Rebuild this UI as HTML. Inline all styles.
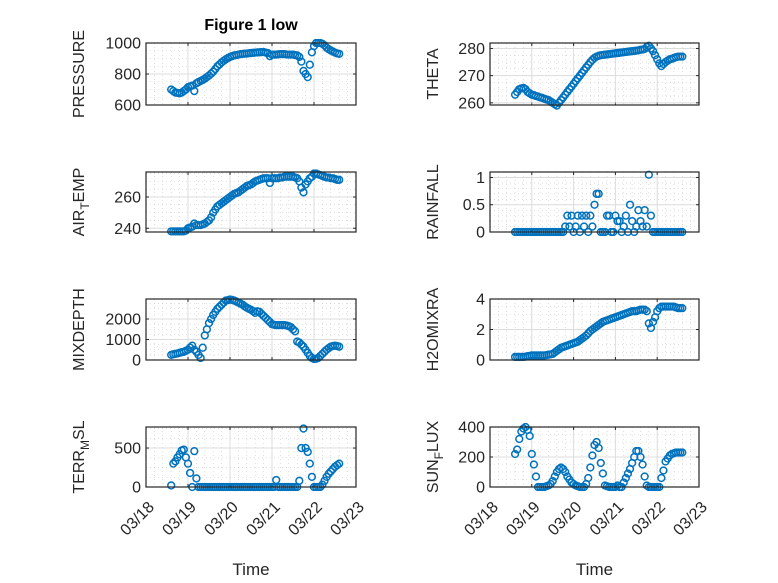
<!DOCTYPE html>
<html><head><meta charset="utf-8"><style>
body{margin:0;background:#fff;}
svg{display:block;font-family:"Liberation Sans",sans-serif;}
</style></head><body>
<svg id="fig" width="778" height="583" viewBox="0 0 778 583" xmlns="http://www.w3.org/2000/svg">
<rect width="778" height="583" fill="#fff"/>
<text x="251" y="30" text-anchor="middle" font-size="16" font-weight="bold" fill="#000">Figure 1 low</text>
</svg>
<script>
const times = [];
for (let i = 0; i <= 80; i++) times.push(18.6 + i * 0.05);
const xTickLabels = ["03/18","03/19","03/20","03/21","03/22","03/23"];
const xTickValues = [18,19,20,21,22,23];
const pressure = [700,690,680,678,675,680,690,700,715,720, 725,690,740,748,755,762,770,780,790,802, 815,832,850,862,875,885,895,903,910,915, 920,922,925,928,930,931,932,934,935,937, 938,939,940,941,942,938,935,915,925,925, 925,927,928,928,928,926,925,925,925,922, 920,910,880,820,800,780,860,940,980,1000, 1000,1000,995,985,970,960,952,945,938,933,930];
const theta = [263,264,265,265.3,265.5,265,264,263.5,263,262.8, 262.5,262.3,262,261.8,261.5,261.2,261,260.5,260,259.5, 259,260,261,262,263,264,265,266,267,268, 269,270,271,272,273,274,275,275.8,276.5,277, 277.3,277.5,277.6,277.7,277.8,277.9,278,278.1,278.2,278.3, 278.4,278.5,278.6,278.7,278.8,278.9,279,279.1,279.2,279.3, 279.5,279.6,279.8,280.5,281,280,279,277.5,276,274.5, 273.5,274.3,275,275.5,276,276.2,276.5,276.8,277,277,277];
const airTemp = [238,238,238,238,238,238,238,238.5,240,240.5, 241,243,242,242,242,242.5,243,244,245,247, 250,252,254,255,256,257,258,259,260,261, 262,262.5,263,264,265,266,267,267.5,268,269, 270,270.5,271,271.5,272,272,272,269,272,272, 272,272,272.5,272.5,273,273,273,273,273,272.5, 272,270,266,263,268,270,272,273,275,275, 274.5,274,273.5,273,272.5,272.5,272,272,271.5,271,271];
const rainfall = [0,0,0,0,0,0,0,0,0,0, 0,0,0,0,0,0,0,0,0,0, 0,0,0,0,0.1,0.3,0.1,0.3,0,0.1, 0.3,0,0.3,0.1,0.3,0,0.3,0.1,0.5,0.7, 0.7,0,0,0,0.3,0.3,0,0,0.3,0.2, 0.2,0,0.1,0.3,0,0.5,0.2,0,0.1,0.4, 0.2,0.1,0.4,0.1,1.05,0.3,0,0,0,0, 0,0,0,0,0,0,0,0,0,0,0];
const mixDepth = [250,280,300,320,350,380,400,450,500,600, 700,500,400,250,100,600,1200,1500,1800,2000, 2200,2350,2500,2600,2700,2800,2900,2920,2950,2930, 2900,2850,2800,2750,2700,2620,2550,2500,2450,2380, 2300,2380,2350,2250,2150,2050,1950,1850,1750,1720, 1700,1700,1700,1700,1700,1680,1650,1600,1500,1400, 900,850,750,650,500,350,200,100,50,60, 100,200,300,400,500,580,650,680,700,680,650];
const h2o = [0.2,0.2,0.2,0.2,0.2,0.22,0.25,0.27,0.3,0.3, 0.3,0.3,0.3,0.3,0.3,0.32,0.35,0.37,0.4,0.5, 0.6,0.7,0.8,0.85,0.9,0.95,1.0,1.05,1.1,1.15, 1.2,1.3,1.4,1.5,1.6,1.75,1.9,2.0,2.1,2.2, 2.3,2.4,2.5,2.55,2.6,2.65,2.7,2.75,2.8,2.85, 2.9,2.95,3.0,3.05,3.1,3.15,3.2,3.2,3.2,3.25, 3.3,3.3,3.3,3.2,2.4,2.1,2.5,2.8,3.2,3.4, 3.5,3.5,3.5,3.5,3.5,3.5,3.5,3.45,3.4,3.4,3.4];
const terrMsl = [20,300,330,380,420,470,480,380,300,180, 0,460,110,0,0,0,0,0,0,0, 0,0,0,0,0,0,0,0,0,0, 0,0,0,0,0,0,0,0,0,0, 0,0,0,0,0,0,0,0,0,0, 90,0,0,0,0,0,0,0,0,0, 0,80,500,750,500,450,300,130,0,0, 0,0,30,80,130,170,200,230,260,280,300];
const sunFlux = [220,250,320,370,390,400,380,340,220,150, 70,0,0,0,0,5,10,20,40,70, 100,120,130,120,100,70,50,30,20,10, 5,0,0,0,20,60,130,210,280,300, 260,160,90,10,5,0,0,0,0,10, 0,0,30,60,90,120,160,200,240,240, 200,150,70,10,0,0,0,0,0,0, 60,110,170,190,210,220,225,230,230,230,230];

const NS = "http://www.w3.org/2000/svg";
const svg = document.getElementById("fig");
function mk(tag, attrs, parent) {
  const e = document.createElementNS(NS, tag);
  for (const k in attrs) e.setAttribute(k, attrs[k]);
  (parent || svg).appendChild(e);
  return e;
}
const cols = [[146,356],[490,699]];
const rows = [[43,105],[172,232],[299,360],[427,487]];
const panels = [
  {name:"pressure", col:0,row:0,data:pressure,ymin:600,ymax:1000,ticks:[600,800,1000],minor:50,label:"PRESSURE"},
  {name:"theta", col:1,row:0,data:theta,ymin:259.2,ymax:282,ticks:[260,270,280],minor:2.5,label:"THETA"},
  {name:"air-temp", col:0,row:1,data:airTemp,ymin:237.6,ymax:276,ticks:[240,260],minor:5,label:"AIR",sub:"T",after:"EMP"},
  {name:"rainfall", col:1,row:1,data:rainfall,ymin:0,ymax:1.1,ticks:[0,0.5,1],minor:0.1,label:"RAINFALL"},
  {name:"mixdepth", col:0,row:2,data:mixDepth,ymin:0,ymax:2976,ticks:[0,1000,2000],minor:250,label:"MIXDEPTH"},
  {name:"h2omixra", col:1,row:2,data:h2o,ymin:0,ymax:4,ticks:[0,2,4],minor:0.5,label:"H2OMIXRA"},
  {name:"terr-msl", col:0,row:3,data:terrMsl,ymin:0,ymax:770,ticks:[0,500],minor:125,label:"TERR",sub:"M",after:"SL"},
  {name:"sun-flux", col:1,row:3,data:sunFlux,ymin:0,ymax:400,ticks:[0,200,400],minor:50,label:"SUN",sub:"F",after:"LUX"}
];
panels.forEach(p => {
  const [x0,x1] = cols[p.col], [y0,y1] = rows[p.row];
  const g = mk("g", {});
  
  
  const xs = t => x0 + (t - 18) / 5 * (x1 - x0);
  const ys = v => y1 - (v - p.ymin) / (p.ymax - p.ymin) * (y1 - y0);
  for (let t = 18.2; t < 23; t += 0.2) {
    if (Math.abs(t - Math.round(t)) < 1e-6) continue;
    const l = mk("line", {x1:xs(t),x2:xs(t),y1:y0,y2:y1,stroke:"#c8c8c8","stroke-width":0.6,"stroke-dasharray":"1,3"}, g);
    
    
  }
  for (let v = Math.ceil(p.ymin / p.minor) * p.minor; v < p.ymax; v += p.minor) {
    const l = mk("line", {x1:x0,x2:x1,y1:ys(v),y2:ys(v),stroke:"#c8c8c8","stroke-width":0.6,"stroke-dasharray":"1,3"}, g);
    
    
  }
  xTickValues.forEach(t => {
    const l = mk("line", {x1:xs(t),x2:xs(t),y1:y0,y2:y1,stroke:"#dcdcdc","stroke-width":1}, g);
    
    
    mk("line", {x1:xs(t),x2:xs(t),y1:y1,y2:y1-3,stroke:"#262626"}, g);
    mk("line", {x1:xs(t),x2:xs(t),y1:y0,y2:y0+3,stroke:"#262626"}, g);
  });
  p.ticks.forEach(v => {
    const l = mk("line", {x1:x0,x2:x1,y1:ys(v),y2:ys(v),stroke:"#dcdcdc","stroke-width":1}, g);
    
    
    mk("line", {x1:x0,x2:x0+3,y1:ys(v),y2:ys(v),stroke:"#262626"}, g);
    mk("line", {x1:x1,x2:x1-3,y1:ys(v),y2:ys(v),stroke:"#262626"}, g);
    const tx = mk("text", {x:x0-5,y:ys(v)+5.5,"text-anchor":"end","font-size":16,fill:"#262626"}, g);
    tx.textContent = String(v);
    
    
  });
  p.data.forEach((v,i) => {
    const c = mk("circle", {cx:xs(times[i]),cy:ys(v),r:3.4,fill:"none",stroke:"#0072BD","stroke-width":1.5}, g);
    
    
  });
  const box = mk("rect", {x:x0,y:y0,width:x1-x0,height:y1-y0,fill:"none",stroke:"#262626","stroke-width":1.2}, g);
  
  
  const lx = p.col === 0 ? 84 : 438, ly = (y0 + y1) / 2;
  const yl = mk("text", {x:lx,y:ly,"text-anchor":"middle","font-size":16,fill:"#262626",transform:`rotate(-90 ${lx} ${ly})`}, g);
  
  
  if (p.sub) {
    const a = mk("tspan", {}, yl); a.textContent = p.label;
    const b = mk("tspan", {dy:5,"font-size":12}, yl); b.textContent = p.sub;
    const c = mk("tspan", {dy:-5}, yl); c.textContent = p.after;
  } else yl.textContent = p.label;
  if (p.row === 3) {
    xTickValues.forEach((t,i) => {
      const tx0 = xs(t) + 9, ty0 = y1 + 21;
      const tl = mk("text", {x:tx0,y:ty0,"text-anchor":"end","font-size":16,fill:"#262626",transform:`rotate(-45 ${tx0} ${ty0})`}, g);
      tl.textContent = xTickLabels[i];
      
      
    });
    const xt = mk("text", {x:(x0+x1)/2,y:575,"text-anchor":"middle","font-size":17,fill:"#262626"}, g);
    xt.textContent = "Time";
    
    
  }
});
</script>
</body></html>
